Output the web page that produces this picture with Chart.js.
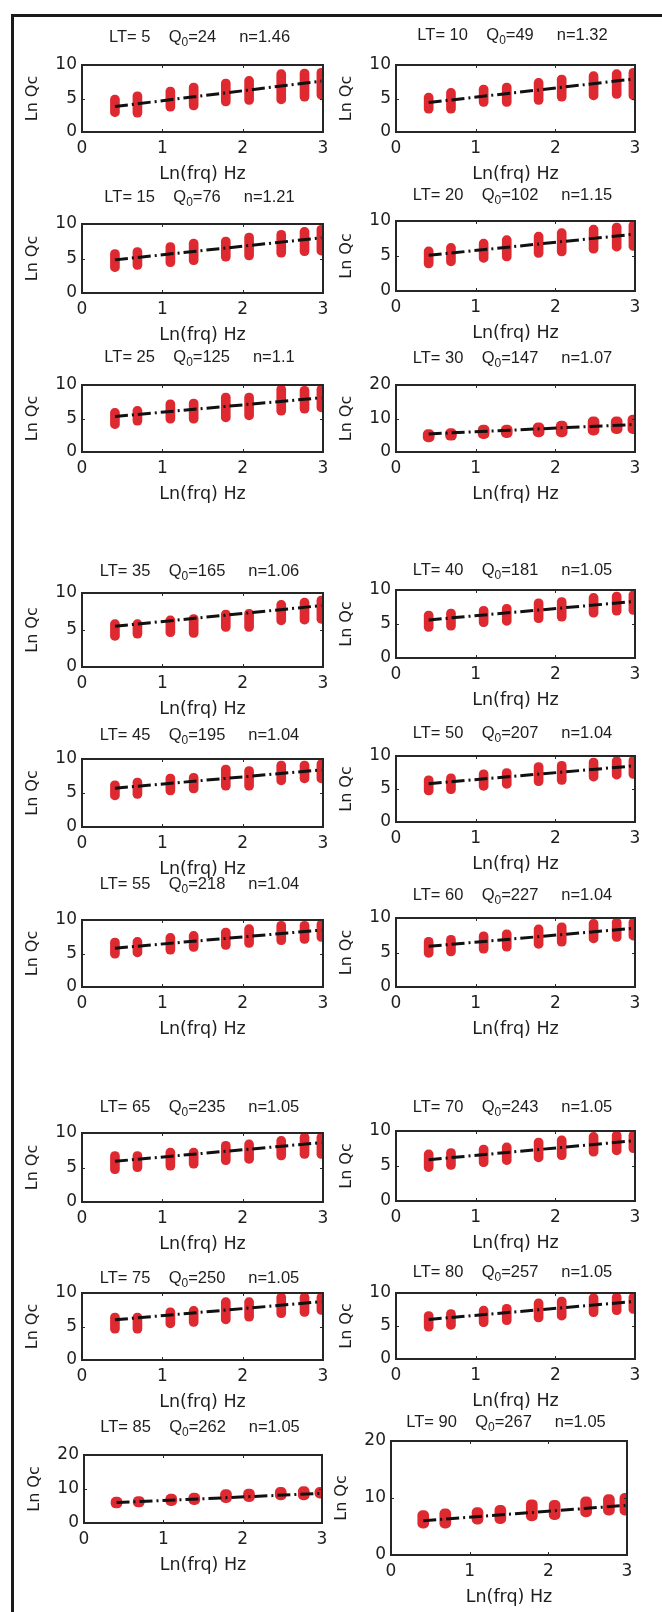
<!DOCTYPE html>
<html><head><meta charset="utf-8">
<script src="https://cdn.jsdelivr.net/npm/chart.js@4.4.1/dist/chart.umd.min.js"></script>
<style>
html,body{margin:0;padding:0;background:#fff;}
#fig{position:relative;width:662px;height:1612px;overflow:hidden;background:#fff;}
#frame{position:absolute;left:11px;top:14px;width:720px;height:1700px;border-left:3px solid #1a1a1a;border-top:3px solid #1a1a1a;}
canvas{position:absolute;}
</style></head><body><div id="fig"><div id="frame"></div></div>
<script>
// ---- data ----
const lnFreq = [0.41, 0.69, 1.10, 1.39, 1.79, 2.08, 2.48, 2.77, 2.98];
const ltValues = [5, 10, 15, 20, 25, 30, 35, 40, 45, 50, 55, 60, 65, 70, 75, 80, 85, 90];
const q0Values = [24, 49, 76, 102, 125, 147, 165, 181, 195, 207, 218, 227, 235, 243, 250, 257, 262, 267];
const nValues = [1.46, 1.32, 1.21, 1.15, 1.1, 1.07, 1.06, 1.05, 1.04, 1.04, 1.04, 1.04, 1.05, 1.05, 1.05, 1.05, 1.05, 1.05];
const yMaxValues = [10, 10, 10, 10, 10, 20, 10, 10, 10, 10, 10, 10, 10, 10, 10, 10, 20, 20];
const xTickValues = [0, 1, 2, 3];
const fitStart = [3.8, 4.4, 4.8, 5.1, 5.3, 5.4, 5.5, 5.6, 5.7, 5.8, 5.8, 5.9, 5.9, 5.9, 6.0, 6.0, 6.0, 6.0];
const fitEnd = [7.6, 7.9, 8.0, 8.1, 8.1, 8.2, 8.3, 8.3, 8.4, 8.5, 8.5, 8.5, 8.6, 8.6, 8.7, 8.7, 8.7, 8.7];
const qcLow = [
  [2.3, 2.2, 3.1, 3.3, 3.9, 4.1, 4.2, 4.6, 4.9],
  [2.8, 2.8, 3.8, 3.8, 4.1, 4.6, 4.8, 5.0, 4.8],
  [3.1, 3.4, 3.8, 4.1, 4.6, 4.8, 5.2, 5.4, 5.5],
  [3.3, 3.6, 4.1, 4.3, 4.8, 5.0, 5.4, 5.7, 5.8],
  [3.5, 4.0, 4.3, 4.3, 4.5, 4.8, 5.5, 5.8, 6.0],
  [3.0, 3.5, 4.0, 4.3, 4.5, 4.5, 5.0, 5.5, 5.5],
  [3.6, 3.9, 4.1, 4.0, 4.8, 4.8, 5.7, 5.8, 5.9],
  [3.9, 4.1, 4.6, 4.8, 5.2, 5.4, 6.0, 6.3, 6.4],
  [4.0, 4.2, 4.7, 5.0, 5.4, 5.4, 6.2, 6.5, 6.5],
  [4.1, 4.3, 4.8, 5.1, 5.5, 5.7, 6.2, 6.5, 6.6],
  [4.3, 4.5, 4.9, 5.3, 5.6, 5.9, 6.3, 6.5, 6.8],
  [4.3, 4.5, 4.9, 5.2, 5.6, 5.9, 6.4, 6.6, 6.8],
  [4.1, 4.4, 4.6, 4.9, 5.4, 5.6, 6.1, 6.3, 6.3],
  [4.2, 4.5, 4.9, 5.2, 5.6, 5.9, 6.4, 6.6, 6.9],
  [4.0, 4.0, 4.8, 5.0, 5.4, 5.8, 6.3, 6.5, 6.8],
  [4.2, 4.5, 4.9, 5.2, 5.6, 5.9, 6.4, 6.7, 6.9],
  [4.4, 4.7, 5.1, 5.4, 6.0, 6.3, 6.8, 6.8, 7.3],
  [4.7, 4.7, 5.4, 5.5, 6.0, 6.2, 6.7, 7.0, 7.0]
];
const qcHigh = [
  [5.5, 6.0, 6.7, 7.3, 7.9, 8.3, 9.3, 9.4, 9.5],
  [5.8, 6.5, 7.0, 7.3, 8.0, 8.5, 9.0, 9.3, 9.5],
  [6.3, 6.6, 7.3, 7.8, 8.1, 8.7, 9.1, 9.5, 9.8],
  [6.3, 6.8, 7.4, 7.9, 8.4, 8.9, 9.4, 9.7, 10.0],
  [6.5, 6.8, 7.8, 7.9, 8.8, 8.8, 10.0, 9.8, 10.0],
  [6.7, 7.0, 8.0, 8.0, 8.7, 9.2, 10.5, 10.5, 11.0],
  [6.4, 6.4, 6.9, 7.1, 7.7, 7.8, 9.0, 9.3, 9.6],
  [6.9, 7.2, 7.6, 7.9, 8.7, 8.9, 9.5, 9.7, 9.9],
  [6.8, 7.2, 7.8, 7.9, 9.1, 8.9, 9.7, 9.7, 9.9],
  [7.0, 7.3, 7.9, 8.1, 9.0, 9.2, 9.7, 9.9, 10.0],
  [7.3, 7.4, 8.0, 8.3, 8.8, 9.3, 9.8, 9.8, 10.0],
  [7.2, 7.5, 8.0, 8.3, 9.0, 9.3, 9.8, 10.0, 10.0],
  [7.3, 7.3, 7.8, 7.8, 8.8, 9.0, 9.5, 10.0, 10.0],
  [7.3, 7.5, 8.0, 8.3, 9.0, 9.3, 9.8, 10.0, 10.0],
  [7.0, 7.0, 7.8, 8.0, 9.3, 9.3, 10.0, 10.0, 10.0],
  [7.2, 7.5, 8.0, 8.3, 9.1, 9.4, 9.9, 10.0, 10.0],
  [7.6, 7.8, 8.5, 8.8, 9.8, 10.0, 10.5, 10.7, 10.5],
  [7.8, 8.1, 8.3, 8.7, 9.7, 9.6, 10.2, 10.6, 10.8]
];

// ---- layout (plot box left, top, width, height, title centre y) ----
const panelLayout = [
  [82, 65, 241, 67, 37], [396, 65, 239, 67, 35],
  [82, 224, 241, 69, 197], [396, 221, 239, 70, 195],
  [82, 385, 241, 67, 357], [396, 385, 239, 67, 358],
  [82, 593, 241, 74, 571], [396, 590, 239, 68, 570],
  [82, 759, 241, 68, 735], [396, 756, 239, 66, 733],
  [82, 920, 241, 67, 884], [396, 918, 239, 69, 895],
  [82, 1133, 241, 69, 1107], [396, 1131, 239, 70, 1107],
  [82, 1293, 241, 67, 1278], [396, 1293, 239, 66, 1272],
  [84, 1455, 238, 68, 1427], [391, 1441, 236, 114, 1422]
];
const PAD_L = 62, PAD_T = 46, PAD_R = 16, PAD_B = 55;
const TITLE_FONT = "'Liberation Sans', Arial, Helvetica, sans-serif";
const AXIS_FONT = "'DejaVu Sans', 'Liberation Sans', Arial, sans-serif";
const TEXT = '#1e1e1e';

Chart.defaults.font.family = AXIS_FONT;
Chart.defaults.font.size = 17;
Chart.defaults.color = TEXT;

const boxPlugin = {
  id: 'matlabBox',
  afterDatasetsDraw(chart) {
    const {ctx, chartArea: a, scales: {x, y}} = chart;
    ctx.save();
    ctx.strokeStyle = '#2a2a2a';
    ctx.lineWidth = 1;
    const tl = 3;
    x.ticks.forEach(t => {
      const px = Math.round(x.getPixelForValue(t.value)) + 0.5;
      ctx.beginPath();
      ctx.moveTo(px, a.bottom); ctx.lineTo(px, a.bottom - tl);
      ctx.moveTo(px, a.top); ctx.lineTo(px, a.top + tl);
      ctx.stroke();
    });
    y.ticks.forEach(t => {
      const py = Math.round(y.getPixelForValue(t.value)) + 0.5;
      ctx.beginPath();
      ctx.moveTo(a.left, py); ctx.lineTo(a.left + tl, py);
      ctx.moveTo(a.right, py); ctx.lineTo(a.right - tl, py);
      ctx.stroke();
    });
    ctx.lineWidth = 2;
    ctx.strokeStyle = '#262626';
    ctx.strokeRect(a.left, a.top, a.right - a.left, a.bottom - a.top);
    ctx.restore();
  },
  afterDraw(chart, args, opts) {
    const {ctx, chartArea: a} = chart;
    const parts = [
      {t: 'LT= ' + opts.lt + '    Q', sub: false},
      {t: '0', sub: true},
      {t: '=' + opts.q0 + '     n=' + opts.n, sub: false}
    ];
    ctx.save();
    ctx.fillStyle = TEXT;
    ctx.textBaseline = 'middle';
    ctx.textAlign = 'left';
    const big = '16.5px ' + TITLE_FONT, small = '12px ' + TITLE_FONT;
    let total = 0;
    parts.forEach(p => { ctx.font = p.sub ? small : big; p.w = ctx.measureText(p.t).width; total += p.w; });
    let x0 = (a.left + a.right) / 2 - total / 2 - 3;
    const yc = opts.titleY;
    parts.forEach(p => {
      ctx.font = p.sub ? small : big;
      ctx.fillText(p.t, x0, p.sub ? yc + 6 : yc);
      x0 += p.w;
    });
    ctx.restore();
  }
};

const fig = document.getElementById('fig');
ltValues.forEach((lt, i) => {
  const [bx, by, bw, bh, ty] = panelLayout[i];
  const cv = document.createElement('canvas');
  const W = bw + PAD_L + PAD_R, H = bh + PAD_T + PAD_B;
  cv.width = W; cv.height = H;
  cv.style.left = (bx - PAD_L) + 'px';
  cv.style.top = (by - PAD_T) + 'px';
  cv.style.width = W + 'px'; cv.style.height = H + 'px';
  fig.appendChild(cv);
  const ymax = yMaxValues[i];
  new Chart(cv, {
    type: 'bar',
    data: {
      datasets: [
        {
          type: 'line',
          order: 0,
          data: [{x: lnFreq[0], y: fitStart[i]}, {x: lnFreq[lnFreq.length - 1], y: fitEnd[i]}],
          borderColor: '#111',
          borderWidth: 3,
          borderDash: [13, 4, 2, 4],
          pointRadius: 0,
          fill: false
        },
        {
          type: 'bar',
          order: 1,
          data: lnFreq.map((x, j) => ({x: x, y: [qcLow[i][j], qcHigh[i][j]]})),
          backgroundColor: 'rgba(220,30,38,0.95)',
          borderWidth: 0,
          borderSkipped: false,
          borderRadius: 5,
          barThickness: ymax === 20 ? 11 : 9
        }
      ]
    },
    options: {
      responsive: false,
      animation: false,
      devicePixelRatio: 1,
      layout: {padding: {top: PAD_T, right: PAD_R, left: 0, bottom: 0}},
      plugins: {
        legend: {display: false},
        tooltip: {enabled: false},
        matlabBox: {lt: lt, q0: q0Values[i], n: nValues[i], titleY: ty - (by - PAD_T)}
      },
      scales: {
        x: {
          type: 'linear',
          min: 0, max: 3,
          offset: false,
          grid: {display: false, drawTicks: false, offset: false},
          border: {display: false},
          afterBuildTicks: s => { s.ticks = xTickValues.map(v => ({value: v})); },
          ticks: {padding: 6, font: {size: 17}, maxRotation: 0, autoSkip: false},
          title: {display: true, text: 'Ln(frq) Hz', font: {size: 17.5}, padding: {top: 0, bottom: 2}},
          afterFit: s => { s.height = PAD_B; }
        },
        y: {
          type: 'linear',
          min: 0, max: ymax,
          grid: {display: false, drawTicks: false},
          border: {display: false},
          ticks: {stepSize: ymax / 2, padding: 5, font: {size: 17}},
          title: {display: true, text: 'Ln Qc', font: {size: 16}, padding: {top: 3, bottom: 0}},
          afterFit: s => { s.width = PAD_L; }
        }
      }
    },
    plugins: [boxPlugin]
  });
});
</script>
</body></html>
